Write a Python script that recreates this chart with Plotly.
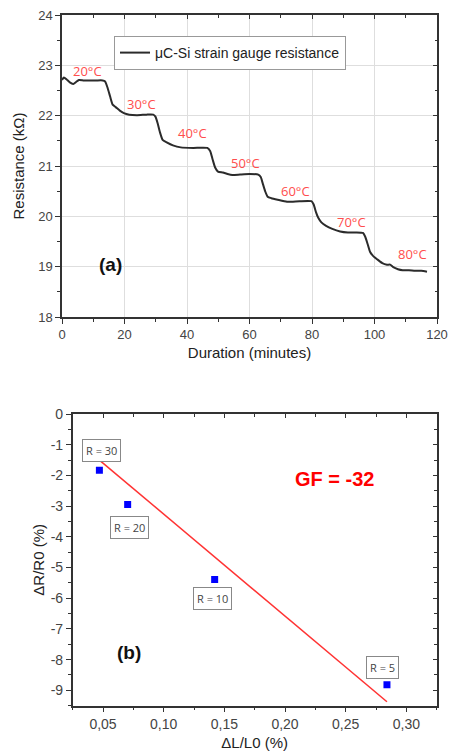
import plotly.graph_objects as go

# ---------------- Panel (a) data ----------------
time_min = [0, 0.6, 1.5, 2.5, 3.6, 4.5, 5.4, 7, 9, 11, 13, 13.8, 14.6, 15.4, 16.2, 17.2,
            18.5, 19.8, 21.5, 24, 27, 29.2, 29.9, 30.6, 31.3, 32.2, 33.5, 35.5, 38, 42,
            46.5, 47.4, 48.2, 49.0, 49.9, 51.5, 53, 54.5, 57, 60, 62.8, 63.6, 64.3, 65.0,
            65.8, 67, 69, 72, 76, 79.8, 80.5, 81.3, 82.0, 83.0, 84.5, 86.5, 89, 91.5, 94,
            96.3, 97.0, 97.8, 98.6, 99.6, 101, 102.5, 104, 105, 106, 107.5, 109, 111, 113,
            115, 116.8]
resistance_kohm = [22.71, 22.76, 22.72, 22.66, 22.63, 22.67, 22.71, 22.70, 22.70, 22.70,
                   22.70, 22.68, 22.55, 22.38, 22.22, 22.17, 22.10, 22.05, 22.02, 22.01,
                   22.02, 22.02, 21.98, 21.85, 21.68, 21.52, 21.47, 21.41, 21.37, 21.36,
                   21.36, 21.30, 21.13, 20.97, 20.89, 20.87, 20.84, 20.82, 20.83, 20.84,
                   20.83, 20.78, 20.64, 20.50, 20.39, 20.36, 20.33, 20.29, 20.30, 20.30,
                   20.24, 20.08, 19.97, 19.88, 19.81, 19.75, 19.70, 19.68, 19.68, 19.67,
                   19.60, 19.45, 19.29, 19.21, 19.14, 19.07, 19.04, 19.04, 18.99, 18.95,
                   18.93, 18.93, 18.92, 18.92, 18.90]

temp_labels = ["20°C", "30°C", "40°C", "50°C", "60°C", "70°C", "80°C"]
temp_label_x = [8.0, 25.5, 41.7, 58.8, 74.8, 92.5, 112.1]
temp_label_y = [22.89, 22.23, 21.65, 21.06, 20.51, 19.88, 19.26]

a_xrange = [0, 120]
a_yrange = [18, 24]
a_xtick_vals = [0, 20, 40, 60, 80, 100, 120]
a_xtick_text = ["0", "20", "40", "60", "80", "100", "120"]
a_ytick_vals = [18, 19, 20, 21, 22, 23, 24]
a_ytick_text = ["18", "19", "20", "21", "22", "23", "24"]

# ---------------- Panel (b) data ----------------
strain_pct = [0.047, 0.0703, 0.142, 0.284]
dr_r0_pct = [-1.83, -2.95, -5.39, -8.82]
point_labels = ["R = 30", "R = 20", "R = 10", "R = 5"]
point_label_x = [0.0486, 0.0717, 0.1406, 0.2806]
point_label_y = [-1.19, -3.68, -6.02, -8.25]

fit_x = [0.047, 0.284]
fit_y = [-1.50, -9.37]

b_xrange = [0.025, 0.325]
b_yrange = [-9.5, 0]
b_xtick_vals = [0.05, 0.10, 0.15, 0.20, 0.25, 0.30]
b_xtick_text = ["0,05", "0,10", "0,15", "0,20", "0,25", "0,30"]
b_ytick_vals = [0, -1, -2, -3, -4, -5, -6, -7, -8, -9]
b_ytick_text = ["0", "-1", "-2", "-3", "-4", "-5", "-6", "-7", "-8", "-9"]

W, H = 450, 751
FONT = "Liberation Sans, Arial, sans-serif"
AXC = "#333333"
TICKC = "#444444"


def px_x(p):
    return p / W


def px_y(p):
    return 1 - p / H


fig = go.Figure()

fig.add_trace(go.Scatter(
    x=time_min, y=resistance_kohm, mode="lines",
    line=dict(color="#2b2b2b", width=2, shape="spline", smoothing=0.5),
    name="μC-Si strain gauge resistance", xaxis="x", yaxis="y", showlegend=True))

fig.add_trace(go.Scatter(
    x=fit_x, y=fit_y, mode="lines", line=dict(color="#ff3333", width=1.5),
    xaxis="x2", yaxis="y2", showlegend=False, name="fit"))
fig.add_trace(go.Scatter(
    x=strain_pct, y=dr_r0_pct, mode="markers",
    marker=dict(symbol="square", size=7, color="#0000ff"),
    xaxis="x2", yaxis="y2", showlegend=False, name="data"))

# empty traces so the mirrored (inward-tick) overlay axes are drawn
fig.add_trace(go.Scatter(x=[], y=[], xaxis="x3", yaxis="y3", showlegend=False, hoverinfo="skip"))
fig.add_trace(go.Scatter(x=[], y=[], xaxis="x4", yaxis="y4", showlegend=False, hoverinfo="skip"))


def axis_common():
    return dict(
        showline=True, linecolor=AXC, linewidth=1.5, mirror=True,
        ticks="outside", ticklen=5, tickwidth=1.2, tickcolor=AXC,
        tickfont=dict(family=FONT, size=13, color=TICKC),
        ticklabeloverflow="allow",
        zeroline=False, automargin=False, fixedrange=True,
    )


def mirror_axis(over, anchor, side, rng, vals, minor_tick0, minor_dtick):
    return dict(
        overlaying=over, anchor=anchor, side=side, range=rng,
        tickmode="array", tickvals=vals, showticklabels=False,
        ticks="inside", ticklen=4, tickwidth=1.2, tickcolor=AXC,
        minor=dict(tickmode="linear", tick0=minor_tick0, dtick=minor_dtick,
                   ticklen=2.5, tickcolor=AXC, ticks="inside"),
        showline=False, showgrid=False, zeroline=False, fixedrange=True, automargin=False,
    )


xa = axis_common()
xa.update(domain=[px_x(62), px_x(437)], range=a_xrange, anchor="y",
          tickmode="array", tickvals=a_xtick_vals, ticktext=a_xtick_text,
          minor=dict(tickmode="linear", tick0=0, dtick=10, ticklen=3, tickcolor=AXC, ticks="outside"),
          showgrid=True, gridcolor="#dedede", gridwidth=1,
          title=dict(text="Duration (minutes)", font=dict(family=FONT, size=15, color="#222"), standoff=6))
ya = axis_common()
ya.update(domain=[px_y(317), px_y(15)], range=a_yrange, anchor="x",
          tickmode="array", tickvals=a_ytick_vals, ticktext=a_ytick_text,
          minor=dict(tickmode="linear", tick0=18, dtick=0.5, ticklen=3, tickcolor=AXC, ticks="outside"),
          showgrid=True, gridcolor="#dedede", gridwidth=1,
          title=dict(text="Resistance (kΩ)", font=dict(family=FONT, size=15, color="#222"), standoff=10))

xb = axis_common()
xb.update(domain=[px_x(72.7), px_x(436.7)], range=b_xrange, anchor="y2",
          tickmode="array", tickvals=b_xtick_vals, ticktext=b_xtick_text,
          minor=dict(tickmode="linear", tick0=0.025, dtick=0.025, ticklen=3, tickcolor=AXC, ticks="outside"),
          showgrid=False, tickfont=dict(family=FONT, size=14, color=TICKC),
          title=dict(text="ΔL/L0 (%)", font=dict(family=FONT, size=15, color="#222"), standoff=10))
yb = axis_common()
yb.update(domain=[px_y(705.7), px_y(414)], range=b_yrange, anchor="x2",
          tickmode="array", tickvals=b_ytick_vals, ticktext=b_ytick_text,
          minor=dict(tickmode="linear", tick0=0, dtick=0.5, ticklen=3, tickcolor=AXC, ticks="outside"),
          showgrid=False, tickfont=dict(family=FONT, size=14, color=TICKC),
          title=dict(text="ΔR/R0 (%)", font=dict(family=FONT, size=15, color="#222"), standoff=2))

xa3 = mirror_axis("x", "y3", "top", a_xrange, a_xtick_vals, 0, 10)
ya3 = mirror_axis("y", "x3", "right", a_yrange, a_ytick_vals, 18, 0.5)
xa4 = mirror_axis("x2", "y4", "top", b_xrange, b_xtick_vals, 0.025, 0.025)
ya4 = mirror_axis("y2", "x4", "right", b_yrange, b_ytick_vals, 0, 0.5)

annotations = []
for t, x, y in zip(temp_labels, temp_label_x, temp_label_y):
    annotations.append(dict(x=x, y=y, xref="x", yref="y", text=t, showarrow=False,
                            font=dict(family="Open Sans, sans-serif", size=13, color="#ff4d4d")))
annotations.append(dict(x=15.4, y=19.04, xref="x", yref="y", text="<b>(a)</b>", showarrow=False,
                        font=dict(family=FONT, size=19, color="#111")))

for t, x, y in zip(point_labels, point_label_x, point_label_y):
    annotations.append(dict(x=x, y=y, xref="x2", yref="y2", text=t, showarrow=False,
                            font=dict(family="Open Sans, sans-serif", size=11, color="#444"),
                            bordercolor="#888", borderwidth=1, borderpad=3, bgcolor="white"))
annotations.append(dict(x=0.241, y=-2.12, xref="x2", yref="y2", text="<b>GF = -32</b>", showarrow=False,
                        font=dict(family=FONT, size=20, color="#ff0000")))
annotations.append(dict(x=0.0718, y=-7.76, xref="x2", yref="y2", text="<b>(b)</b>", showarrow=False,
                        font=dict(family=FONT, size=19, color="#111")))

fig.update_layout(
    width=W, height=H, autosize=False,
    margin=dict(l=0, r=0, t=0, b=0),
    paper_bgcolor="white", plot_bgcolor="white",
    xaxis=xa, yaxis=ya, xaxis2=xb, yaxis2=yb,
    xaxis3=xa3, yaxis3=ya3, xaxis4=xa4, yaxis4=ya4,
    showlegend=True,
    legend=dict(x=px_x(114), y=px_y(36), xanchor="left", yanchor="top",
                bgcolor="white", bordercolor="#999", borderwidth=1,
                font=dict(family=FONT, size=14, color="#222"),
                itemwidth=30, tracegroupgap=0),
    annotations=annotations,
)

# remove the browser's default 8px body margin so the 450x751 figure fills the window exactly
fig.write_html("out.html", config={"displayModeBar": False},
               post_script="document.body.style.margin='0px';document.body.style.overflow='hidden';")
